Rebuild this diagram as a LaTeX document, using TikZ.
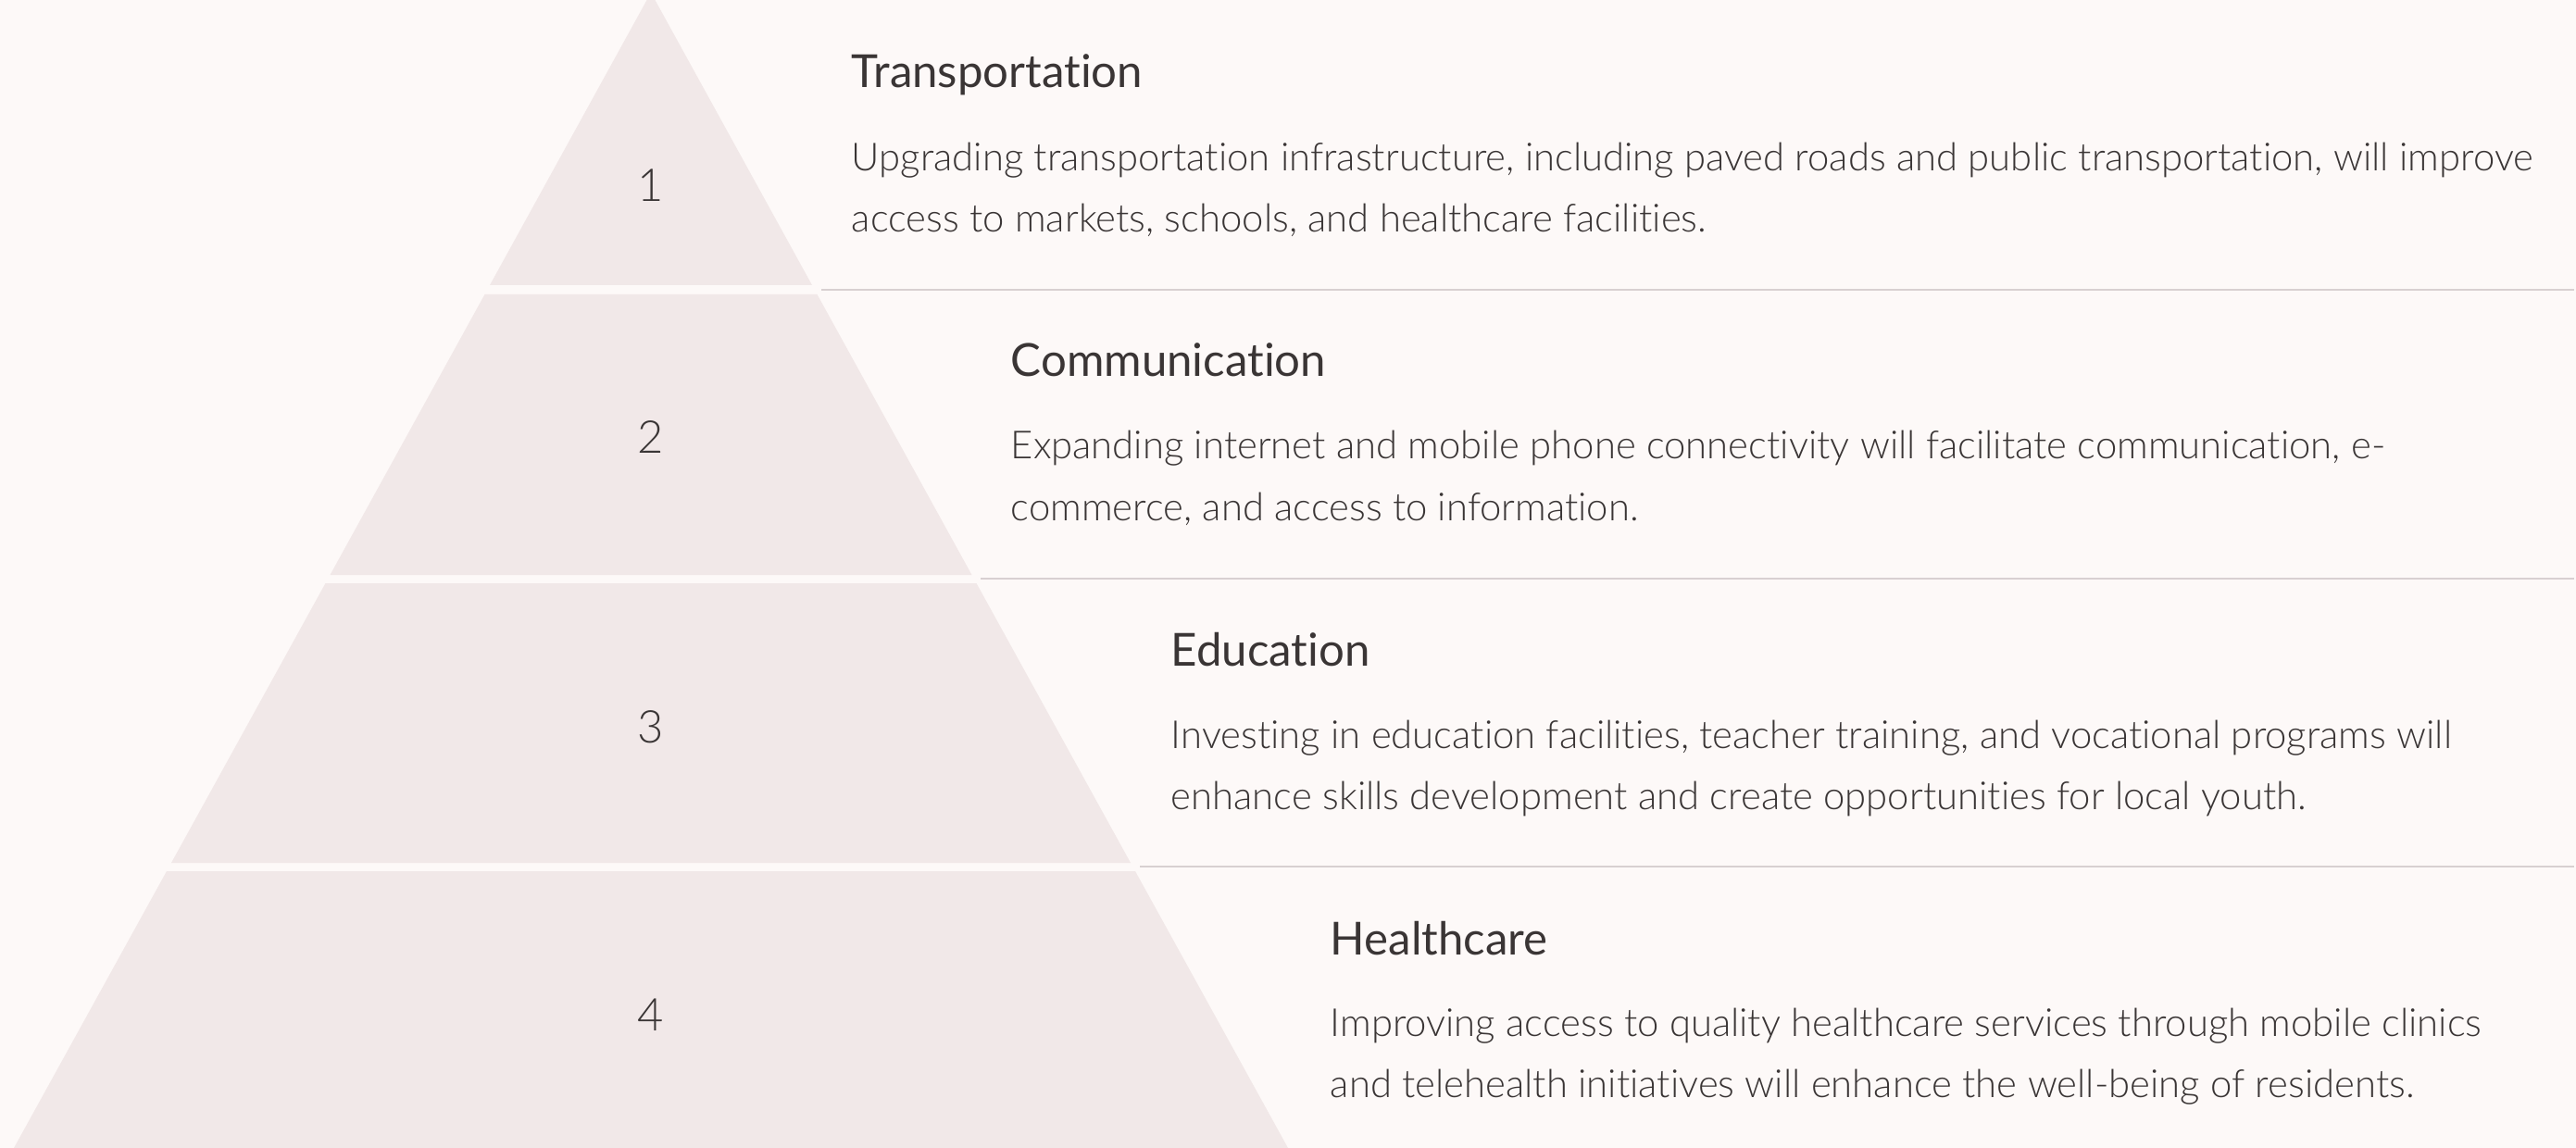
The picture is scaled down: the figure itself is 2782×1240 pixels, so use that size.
\documentclass[tikz,border=0pt]{standalone}
\usepackage{fontspec}
\setmainfont{Lato}[Ligatures=NoCommon]
\newfontfamily\headfont{Lato}[Ligatures=NoCommon]
\newfontfamily\bodyfont{Lato}[UprightFont={* Light},Ligatures=NoCommon]
\definecolor{bgc}{HTML}{FDF9F8}
\definecolor{tierc}{HTML}{F1E8E8}
\definecolor{txtc}{HTML}{3A3535}
\definecolor{sepc}{HTML}{D8D0D1}
\begin{document}
\begin{tikzpicture}[x=0.25pt,y=-0.25pt,
  tier/.style={fill=tierc,draw=none},
  sep/.style={draw=sepc,line width=0.6pt},
  num/.style={anchor=base,inner sep=0,text=txtc,font=\bodyfont\fontsize{12.2}{14}\selectfont},
  head/.style={anchor=base west,inner sep=0,text=txtc,font=\headfont\fontsize{12.3}{14}\selectfont},
  body/.style={anchor=base west,inner sep=0,text=txtc,font=\bodyfont\fontsize{10.45}{14}\selectfont}]
\fill[bgc] (0,0) rectangle (2782,1240);
\useasboundingbox (0,0) rectangle (2782,1240);
% tiers
\fill[tier] (703,-8) -- (877,308) -- (529,308) -- cycle;
\fill[tier] (523.5,318) -- (882.5,318) -- (1049.5,621) -- (356.5,621) -- cycle;
\fill[tier] (351.5,630) -- (1054.5,630) -- (1221,932) -- (185,932) -- cycle;
\fill[tier] (180,941) -- (1226,941) -- (1391,1240) -- (15,1240) -- cycle;
% separators
\coordinate (s1a) at (887,313);  \coordinate (s1b) at (2780,313);
\coordinate (s2a) at (1059,625); \coordinate (s2b) at (2780,625);
\coordinate (s3a) at (1231,936); \coordinate (s3b) at (2780,936);
\draw[sep] (s1a) -- (s1b);
\draw[sep] (s2a) -- (s2b);
\draw[sep] (s3a) -- (s3b);
% numbers
\node[num] (n1) at (703,218) {1};
\node[num] (n2) at (703,490) {2};
\node[num] (n3) at (703,802) {3};
\node[num] (n4) at (703,1113) {4};
% texts
\node[head] (h1) at (919,95) {Transportation};
\node[body] (b1a) at (919,185) {Upgrading transportation infrastructure, including paved roads and public transportation, will improve};
\node[body] (b1b) at (919,251) {access to markets, schools, and healthcare facilities.};
\node[head] (h2) at (1091,407) {Communication};
\node[body] (b2a) at (1091,496) {Expanding internet and mobile phone connectivity will facilitate communication, e-};
\node[body] (b2b) at (1091,562) {commerce, and access to information.};
\node[head] (h3) at (1264,719) {Education};
\node[body] (b3a) at (1264,808) {Investing in education facilities, teacher training, and vocational programs will};
\node[body] (b3b) at (1264,874) {enhance skills development and create opportunities for local youth.};
\node[head] (h4) at (1436,1031) {Healthcare};
\node[body] (b4a) at (1436,1119) {Improving access to quality healthcare services through mobile clinics};
\node[body] (b4b) at (1436,1185) {and telehealth initiatives will enhance the well-being of residents.};
\end{tikzpicture}
\end{document}
